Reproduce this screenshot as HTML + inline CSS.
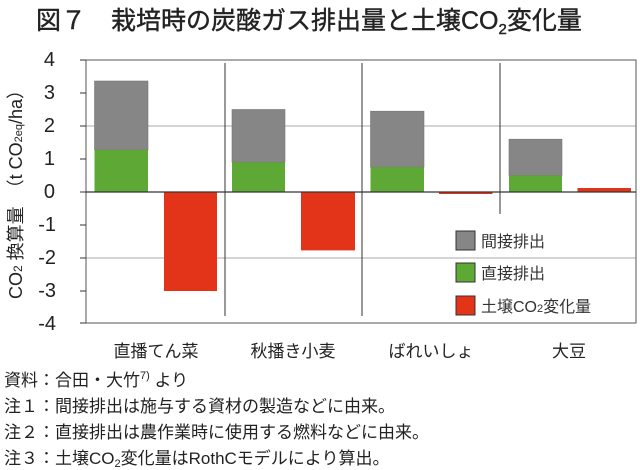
<!DOCTYPE html>
<html><head><meta charset="utf-8"><style>
body{margin:0;background:#fff;}
svg{display:block;font-family:"Liberation Sans","Noto Sans CJK JP",sans-serif;}
</style></head><body>
<svg width="640" height="470" viewBox="0 0 640 470" xmlns="http://www.w3.org/2000/svg">
<text x="36" y="29" font-size="25" fill="#222" stroke="#222" stroke-width="0.4">図７　栽培時の炭酸ガス排出量と土壌CO<tspan font-size="15" dy="5">2</tspan><tspan dy="-5">変化量</tspan></text>
<line x1="86" y1="126" x2="636" y2="126" stroke="#aaa" stroke-width="1"/>
<line x1="86" y1="258" x2="636" y2="258" stroke="#aaa" stroke-width="1"/>
<g>
<rect x="94.5" y="81" width="53.5" height="69" fill="#868686" stroke="#777" stroke-width="0.6"/>
<rect x="94.5" y="150" width="53.5" height="42" fill="#5ea836"/>
<rect x="164" y="192" width="53" height="99" fill="#e33318"/>
<rect x="232" y="109.5" width="53" height="52.8" fill="#868686" stroke="#777" stroke-width="0.6"/>
<rect x="232" y="162.3" width="53" height="29.7" fill="#5ea836"/>
<rect x="301" y="192" width="54" height="58.4" fill="#e33318"/>
<rect x="370.5" y="111.2" width="53.5" height="56" fill="#868686" stroke="#777" stroke-width="0.6"/>
<rect x="370.5" y="167.2" width="53.5" height="24.8" fill="#5ea836"/>
<rect x="439" y="192" width="53.5" height="2" fill="#e33318"/>
<rect x="509" y="139.2" width="53" height="36.3" fill="#868686" stroke="#777" stroke-width="0.6"/>
<rect x="509" y="175.5" width="53" height="16.5" fill="#5ea836"/>
<rect x="577.5" y="188" width="53.5" height="4" fill="#e33318"/>
</g>
<rect x="86" y="60" width="550" height="263" fill="none" stroke="#555" stroke-width="1"/>
<line x1="86" y1="192" x2="636" y2="192" stroke="#333" stroke-width="1.2"/>
<line x1="225" y1="63" x2="225" y2="316" stroke="#333" stroke-width="1"/>
<line x1="362" y1="63" x2="362" y2="316" stroke="#333" stroke-width="1"/>
<line x1="500" y1="63" x2="500" y2="214" stroke="#333" stroke-width="1"/>
<g stroke="#333" stroke-width="1">
<line x1="80" y1="60" x2="86" y2="60"/><line x1="80" y1="93" x2="86" y2="93"/>
<line x1="80" y1="126" x2="86" y2="126"/><line x1="80" y1="159" x2="86" y2="159"/>
<line x1="80" y1="192" x2="86" y2="192"/><line x1="80" y1="225" x2="86" y2="225"/>
<line x1="80" y1="258" x2="86" y2="258"/><line x1="80" y1="291" x2="86" y2="291"/>
<line x1="80" y1="323" x2="86" y2="323"/>
</g>
<g font-size="20" fill="#222" text-anchor="end">
<text x="55" y="66">4</text><text x="55" y="99">3</text><text x="55" y="132">2</text>
<text x="55" y="165">1</text><text x="55" y="198">0</text><text x="56" y="231">-1</text>
<text x="56" y="264">-2</text><text x="56" y="297">-3</text><text x="56" y="330">-4</text>
</g>
<text transform="translate(22,190) rotate(-90)" font-size="18" fill="#222" text-anchor="middle">CO<tspan font-size="12">2</tspan> 換算量　（t CO<tspan font-size="11">2eq</tspan>/ha）</text>
<g font-size="17" fill="#222" text-anchor="middle">
<text x="156" y="357">直播てん菜</text>
<text x="293" y="357">秋播き小麦</text>
<text x="431" y="357">ばれいしょ</text>
<text x="569" y="357">大豆</text>
</g>
<rect x="456" y="231" width="19" height="19" fill="#868686" stroke="#333" stroke-width="1"/>
<rect x="456" y="263" width="19" height="19" fill="#5ea836" stroke="#333" stroke-width="1"/>
<rect x="456" y="296" width="19" height="19" fill="#e33318" stroke="#333" stroke-width="1"/>
<g font-size="16" fill="#333">
<text x="481" y="247">間接排出</text>
<text x="481" y="279">直接排出</text>
<text x="481" y="312">土壌CO<tspan font-size="11">2</tspan>変化量</text>
</g>
<g font-size="17" fill="#222">
<text x="4" y="386">資料：合田・大竹<tspan font-size="11" dy="-7">7)</tspan><tspan dy="7"> より</tspan></text>
<text x="4" y="412">注１：間接排出は施与する資材の製造などに由来。</text>
<text x="4" y="438">注２：直接排出は農作業時に使用する燃料などに由来。</text>
<text x="4" y="464">注３：土壌CO<tspan font-size="11" dy="3">2</tspan><tspan dy="-3">変化量はRothCモデルにより算出。</tspan></text>
</g>
</svg>
</body></html>
